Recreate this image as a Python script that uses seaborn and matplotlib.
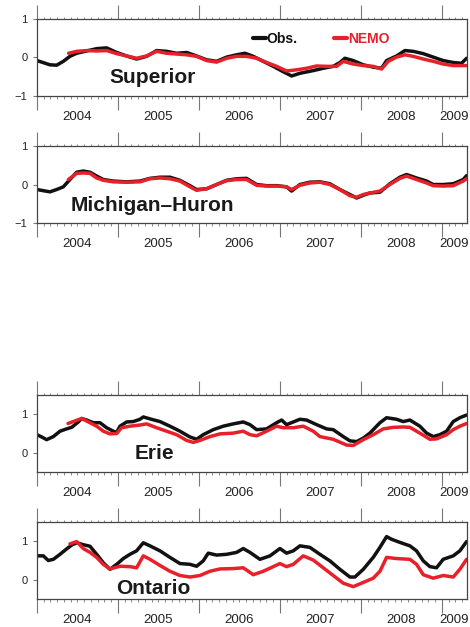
import matplotlib
matplotlib.use("Agg")
import matplotlib.pyplot as plt
import matplotlib.transforms as mtransforms
from matplotlib.lines import Line2D
from matplotlib.ticker import FixedLocator
import numpy as np
import pandas as pd
import seaborn as sns

sns.set_style("ticks")
plt.rcParams["font.family"] = ["Liberation Sans", "DejaVu Sans"]

BLACK = "#111111"
RED = "#e8202a"

# ---- water-level anomalies (m), decimal years ----
superior_obs_t = [2004.000, 2004.160, 2004.243, 2004.325, 2004.407, 2004.490, 2004.613, 2004.737, 2004.860, 2004.984,
                  2005.107, 2005.230, 2005.354, 2005.477, 2005.601, 2005.724, 2005.848, 2005.971, 2006.095, 2006.218,
                  2006.342, 2006.465, 2006.568, 2006.671, 2006.794, 2006.918, 2007.041, 2007.144, 2007.247, 2007.412,
                  2007.535, 2007.658, 2007.741, 2007.802, 2007.905, 2008.029, 2008.152, 2008.255, 2008.317, 2008.440,
                  2008.543, 2008.646, 2008.770, 2008.893, 2009.016, 2009.140, 2009.243, 2009.305]
superior_obs = [-0.08, -0.19, -0.20, -0.10, 0.03, 0.11, 0.17, 0.23, 0.25, 0.13,
                0.04, -0.04, 0.03, 0.18, 0.16, 0.11, 0.13, 0.04, -0.06, -0.10,
                0.01, 0.07, 0.11, 0.03, -0.10, -0.23, -0.37, -0.48, -0.41, -0.34,
                -0.28, -0.23, -0.13, -0.02, -0.08, -0.19, -0.25, -0.28, -0.08, 0.04,
                0.18, 0.16, 0.10, 0.01, -0.08, -0.13, -0.15, -0.02]
superior_nemo_t = [2004.390, 2004.490, 2004.613, 2004.737, 2004.860, 2004.984, 2005.107, 2005.230, 2005.354, 2005.477,
                   2005.601, 2005.724, 2005.848, 2005.971, 2006.095, 2006.218, 2006.342, 2006.465, 2006.588, 2006.712,
                   2006.835, 2006.959, 2007.082, 2007.206, 2007.329, 2007.453, 2007.576, 2007.700, 2007.782, 2007.905,
                   2008.029, 2008.152, 2008.255, 2008.337, 2008.440, 2008.543, 2008.646, 2008.770, 2008.893, 2009.016,
                   2009.140, 2009.305]
superior_nemo = [0.11, 0.16, 0.18, 0.17, 0.18, 0.10, 0.04, -0.02, 0.04, 0.16,
                 0.11, 0.09, 0.07, 0.03, -0.08, -0.12, -0.02, 0.03, 0.03, -0.02,
                 -0.13, -0.23, -0.35, -0.32, -0.28, -0.22, -0.23, -0.23, -0.10, -0.17,
                 -0.21, -0.23, -0.30, -0.10, 0.01, 0.07, 0.03, -0.04, -0.10, -0.17,
                 -0.21, -0.21]

michigan_obs_t = [2004.000, 2004.078, 2004.160, 2004.243, 2004.325, 2004.407, 2004.490, 2004.572, 2004.654, 2004.737,
                  2004.819, 2004.942, 2005.107, 2005.272, 2005.395, 2005.519, 2005.642, 2005.765, 2005.889, 2005.971,
                  2006.095, 2006.218, 2006.342, 2006.465, 2006.588, 2006.712, 2006.835, 2006.959, 2007.082, 2007.144,
                  2007.247, 2007.370, 2007.494, 2007.617, 2007.741, 2007.864, 2007.947, 2008.029, 2008.111, 2008.235,
                  2008.358, 2008.481, 2008.564, 2008.687, 2008.811, 2008.893, 2009.016, 2009.140, 2009.263, 2009.305]
michigan_obs = [-0.13, -0.16, -0.19, -0.13, -0.06, 0.13, 0.32, 0.35, 0.32, 0.22,
                0.13, 0.09, 0.07, 0.09, 0.16, 0.19, 0.19, 0.11, -0.03, -0.13,
                -0.11, 0.00, 0.11, 0.15, 0.16, 0.00, -0.03, -0.03, -0.06, -0.17,
                0.00, 0.06, 0.07, 0.02, -0.13, -0.26, -0.35, -0.28, -0.22, -0.20,
                0.02, 0.19, 0.26, 0.17, 0.09, 0.00, 0.00, 0.02, 0.13, 0.23]
michigan_nemo_t = [2004.387, 2004.490, 2004.572, 2004.654, 2004.737, 2004.819, 2004.942, 2005.107, 2005.272, 2005.395,
                   2005.519, 2005.642, 2005.765, 2005.889, 2005.971, 2006.095, 2006.218, 2006.342, 2006.465, 2006.588,
                   2006.712, 2006.835, 2006.959, 2007.082, 2007.144, 2007.247, 2007.370, 2007.494, 2007.617, 2007.741,
                   2007.864, 2007.947, 2008.029, 2008.111, 2008.235, 2008.358, 2008.481, 2008.564, 2008.687, 2008.811,
                   2008.893, 2009.016, 2009.140, 2009.263, 2009.305]
michigan_nemo = [0.13, 0.29, 0.30, 0.29, 0.17, 0.11, 0.07, 0.06, 0.07, 0.15,
                 0.17, 0.15, 0.09, -0.06, -0.15, -0.11, 0.00, 0.10, 0.13, 0.13,
                 -0.02, -0.04, -0.04, -0.06, -0.13, -0.02, 0.04, 0.06, 0.00, -0.13,
                 -0.29, -0.33, -0.26, -0.22, -0.17, 0.00, 0.16, 0.22, 0.13, 0.04,
                 -0.03, -0.04, -0.03, 0.09, 0.15]

erie_obs_t = [2004.000, 2004.058, 2004.119, 2004.202, 2004.284, 2004.366, 2004.428, 2004.510, 2004.551, 2004.613,
              2004.695, 2004.778, 2004.860, 2004.942, 2004.984, 2005.025, 2005.107, 2005.189, 2005.272, 2005.313,
              2005.395, 2005.519, 2005.642, 2005.765, 2005.889, 2005.971, 2006.053, 2006.177, 2006.300, 2006.424,
              2006.547, 2006.630, 2006.712, 2006.835, 2006.959, 2007.021, 2007.082, 2007.165, 2007.247, 2007.329,
              2007.453, 2007.576, 2007.658, 2007.782, 2007.864, 2007.947, 2008.029, 2008.111, 2008.235, 2008.317,
              2008.440, 2008.523, 2008.605, 2008.728, 2008.811, 2008.893, 2008.975, 2009.058, 2009.140, 2009.222,
              2009.305]
erie_obs = [0.47, 0.41, 0.34, 0.42, 0.56, 0.62, 0.66, 0.80, 0.89, 0.85,
            0.78, 0.78, 0.65, 0.56, 0.53, 0.69, 0.80, 0.81, 0.87, 0.93,
            0.88, 0.81, 0.69, 0.56, 0.41, 0.35, 0.47, 0.60, 0.69, 0.75,
            0.80, 0.73, 0.60, 0.62, 0.78, 0.85, 0.73, 0.80, 0.87, 0.85,
            0.73, 0.62, 0.60, 0.42, 0.31, 0.29, 0.38, 0.51, 0.78, 0.91,
            0.87, 0.81, 0.85, 0.69, 0.51, 0.42, 0.47, 0.56, 0.81, 0.91,
            0.98]
erie_nemo_t = [2004.383, 2004.551, 2004.654, 2004.737, 2004.819, 2004.901, 2004.984, 2005.045, 2005.148, 2005.272,
               2005.354, 2005.477, 2005.601, 2005.724, 2005.848, 2005.930, 2006.012, 2006.136, 2006.259, 2006.424,
               2006.547, 2006.630, 2006.712, 2006.835, 2006.959, 2007.041, 2007.165, 2007.288, 2007.412, 2007.494,
               2007.658, 2007.823, 2007.905, 2008.029, 2008.152, 2008.276, 2008.399, 2008.523, 2008.605, 2008.728,
               2008.852, 2008.934, 2009.058, 2009.140, 2009.222, 2009.305]
erie_nemo = [0.76, 0.89, 0.78, 0.69, 0.56, 0.49, 0.50, 0.65, 0.69, 0.72,
             0.75, 0.65, 0.56, 0.47, 0.32, 0.27, 0.32, 0.42, 0.49, 0.51,
             0.56, 0.47, 0.44, 0.56, 0.69, 0.65, 0.65, 0.69, 0.56, 0.42,
             0.35, 0.20, 0.19, 0.34, 0.47, 0.62, 0.66, 0.67, 0.66, 0.51,
             0.35, 0.36, 0.47, 0.60, 0.69, 0.76]

ontario_obs_t = [2004.000, 2004.078, 2004.140, 2004.202, 2004.284, 2004.366, 2004.428, 2004.490, 2004.572, 2004.654,
                 2004.737, 2004.819, 2004.901, 2004.984, 2005.066, 2005.148, 2005.230, 2005.313, 2005.395, 2005.519,
                 2005.642, 2005.765, 2005.889, 2005.971, 2006.053, 2006.115, 2006.218, 2006.342, 2006.465, 2006.547,
                 2006.630, 2006.753, 2006.877, 2007.000, 2007.082, 2007.165, 2007.247, 2007.370, 2007.494, 2007.617,
                 2007.741, 2007.864, 2007.926, 2008.029, 2008.152, 2008.235, 2008.317, 2008.379, 2008.481, 2008.605,
                 2008.687, 2008.770, 2008.852, 2008.934, 2009.016, 2009.140, 2009.222, 2009.305]
ontario_obs = [0.62, 0.62, 0.50, 0.53, 0.66, 0.80, 0.90, 0.96, 0.91, 0.87,
               0.66, 0.44, 0.27, 0.40, 0.55, 0.66, 0.75, 0.96, 0.88, 0.75,
               0.58, 0.42, 0.40, 0.35, 0.49, 0.69, 0.64, 0.66, 0.71, 0.81,
               0.71, 0.53, 0.62, 0.81, 0.69, 0.75, 0.88, 0.84, 0.66, 0.49,
               0.27, 0.07, 0.07, 0.27, 0.58, 0.84, 1.12, 1.05, 0.97, 0.88,
               0.75, 0.49, 0.34, 0.31, 0.53, 0.62, 0.75, 0.99]
ontario_nemo_t = [2004.407, 2004.490, 2004.572, 2004.654, 2004.737, 2004.819, 2004.901, 2005.025, 2005.148, 2005.230,
                  2005.313, 2005.395, 2005.519, 2005.642, 2005.765, 2005.889, 2006.012, 2006.136, 2006.259, 2006.424,
                  2006.547, 2006.671, 2006.794, 2006.918, 2007.000, 2007.082, 2007.165, 2007.288, 2007.412, 2007.535,
                  2007.658, 2007.782, 2007.905, 2008.029, 2008.152, 2008.235, 2008.317, 2008.440, 2008.605, 2008.687,
                  2008.770, 2008.893, 2009.016, 2009.140, 2009.222, 2009.305]
ontario_nemo = [0.93, 0.99, 0.81, 0.71, 0.58, 0.40, 0.28, 0.35, 0.34, 0.31,
                0.62, 0.53, 0.37, 0.22, 0.11, 0.07, 0.11, 0.22, 0.28, 0.29,
                0.31, 0.13, 0.22, 0.34, 0.42, 0.34, 0.40, 0.62, 0.51, 0.31,
                0.11, -0.09, -0.18, -0.07, 0.04, 0.22, 0.58, 0.55, 0.53, 0.40,
                0.13, 0.04, 0.11, 0.07, 0.27, 0.53]

year_labels = ["2004", "2005", "2006", "2007", "2008", "2009"]
lake_names = ["Superior", "Michigan\u2013Huron", "Erie", "Ontario"]
series_names = ["Obs.", "NEMO"]

X_START, X_END = 2004.0, 2009.31

panels = [
    dict(name=lake_names[0], obs=(superior_obs_t, superior_obs), nemo=(superior_nemo_t, superior_nemo),
         ylim=(-1, 1), yticks=[-1, 0, 1], label=(2004.90, -0.53), rect=[0.0787, 0.8469, 0.9149, 0.1228]),
    dict(name=lake_names[1], obs=(michigan_obs_t, michigan_obs), nemo=(michigan_nemo_t, michigan_nemo),
         ylim=(-1, 1), yticks=[-1, 0, 1], label=(2004.42, -0.55), rect=[0.0787, 0.6443, 0.9149, 0.1228]),
    dict(name=lake_names[2], obs=(erie_obs_t, erie_obs), nemo=(erie_nemo_t, erie_nemo),
         ylim=(-0.5, 1.5), yticks=[0, 1], label=(2005.20, -0.01), rect=[0.0787, 0.2472, 0.9149, 0.1228]),
    dict(name=lake_names[3], obs=(ontario_obs_t, ontario_obs), nemo=(ontario_nemo_t, ontario_nemo),
         ylim=(-0.5, 1.5), yticks=[0, 1], label=(2004.98, -0.23), rect=[0.0787, 0.0447, 0.9149, 0.1228]),
]

fig = plt.figure(figsize=(4.7, 6.27), dpi=100)
fig.patch.set_facecolor("white")

years = np.arange(2004, 2010)
months = np.arange(2004, 2009.34, 1 / 12)
label_pos = [(max(y, X_START) + min(y + 1, X_END)) / 2 for y in years]

for i, p in enumerate(panels):
    ax = fig.add_axes(p["rect"])
    df = pd.concat([
        pd.DataFrame({"year": p["obs"][0], "level": p["obs"][1], "series": series_names[0]}),
        pd.DataFrame({"year": p["nemo"][0], "level": p["nemo"][1], "series": series_names[1]}),
    ], ignore_index=True)
    sns.lineplot(data=df, x="year", y="level", hue="series",
                 palette={series_names[0]: BLACK, series_names[1]: RED},
                 estimator=None, sort=False, lw=2.5, legend=False, ax=ax)

    ax.set_xlim(X_START, X_END)
    ax.set_ylim(*p["ylim"])
    ax.set_xlabel("")
    ax.set_ylabel("")

    for sp in ax.spines.values():
        sp.set_visible(True)
        sp.set_color("#444444")
        sp.set_linewidth(0.9)

    ax.set_xticks(years)
    ax.xaxis.set_minor_locator(FixedLocator(months))
    ax.tick_params(axis="x", which="major", direction="out", length=10, width=0.8,
                   color="#777777", top=True, bottom=True, labelbottom=False, labeltop=False)
    ax.tick_params(axis="x", which="minor", direction="out", length=1.8, width=0.6,
                   color="#777777", top=True, bottom=True)
    ax.set_yticks(p["yticks"])
    ax.tick_params(axis="y", which="major", direction="out", length=3, width=0.8,
                   color="#777777", left=True, right=False, labelsize=8, pad=4,
                   labelcolor="#222222")
    ax.yaxis.set_minor_locator(FixedLocator([]))

    trans = mtransforms.blended_transform_factory(ax.transData, ax.transAxes)
    for xp, lab in zip(label_pos, year_labels):
        ax.text(xp, -0.275, lab, transform=trans, ha="center", va="center",
                fontsize=9.5, color="#222222")

    ax.text(p["label"][0], p["label"][1], p["name"], ha="left", va="center",
            fontsize=15, fontweight="bold", color="#1a1a1a")

    if i == 0:
        handles = [Line2D([], [], color=BLACK, lw=3), Line2D([], [], color=RED, lw=3)]
        leg = ax.legend(handles, series_names, loc="center left", bbox_to_anchor=(0.502, 0.74),
                        ncol=2, frameon=False, handlelength=0.95, handletextpad=0.05,
                        columnspacing=2.6, borderaxespad=0, borderpad=0,
                        prop={"weight": "bold", "size": 10})
        for txt, col in zip(leg.get_texts(), [BLACK, RED]):
            txt.set_color(col)

fig.savefig("out.png", dpi=100, facecolor="white")
